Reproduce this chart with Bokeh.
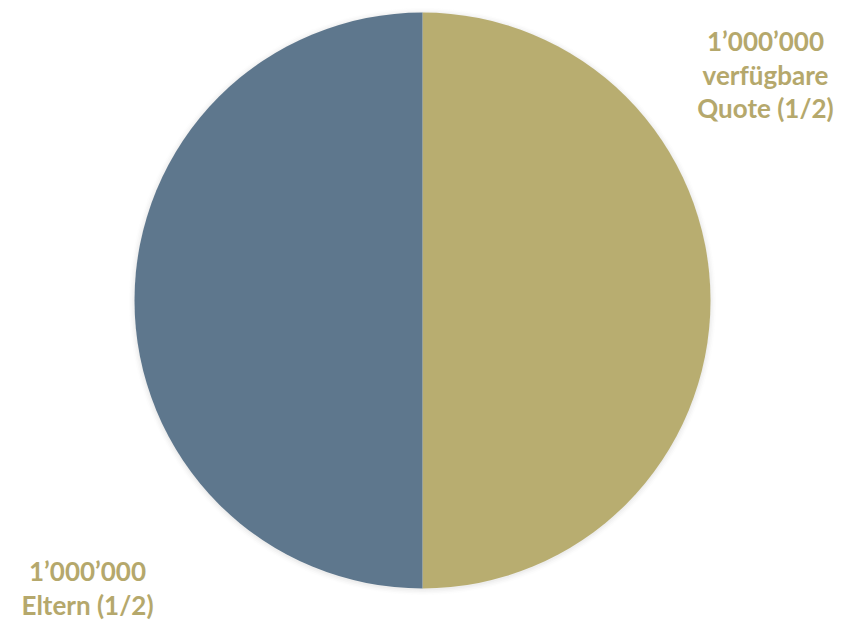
import numpy as np
from bokeh.plotting import figure
from bokeh.models import Range1d, ColumnDataSource
from bokeh.core.properties import value
from bokeh.embed import file_html
from bokeh.resources import INLINE

# Data
categories = ["verfügbare Quote (1/2)", "Eltern (1/2)"]
amounts = [1000000, 1000000]
amount_labels = ["1’000’000", "1’000’000"]
colors = ["#B8AD70", "#5E778D"]

W, H = 842, 620
p = figure(width=W, height=H, output_backend="svg", toolbar_location=None,
           x_range=Range1d(0, W), y_range=Range1d(0, H), min_border=0)
p.axis.visible = False
p.grid.visible = False
p.outline_line_color = None
p.background_fill_color = "white"

cx, cy, r = 422, 320, 288

# soft shadow
for i, a in enumerate([0.05, 0.04, 0.03, 0.02]):
    p.circle(x=[cx], y=[cy - 1], radius=r + 1 + i * 1.5, fill_color="#808080",
             fill_alpha=a, line_color=None)

total = float(sum(amounts))
fracs = np.array(amounts) / total
ends = np.cumsum(fracs) * 2 * np.pi
starts = np.concatenate([[0], ends[:-1]])
# clockwise from 12 o'clock
start_angle = np.pi / 2 - starts
end_angle = np.pi / 2 - ends

src = ColumnDataSource(dict(start=start_angle, end=end_angle, color=colors))
p.wedge(x=cx, y=cy, radius=r, start_angle="start", end_angle="end",
        direction="clock", fill_color="color", line_color=None, source=src)

label_color = "#B5A86C"
font = value("Lato")
fsize = "26px"
# top-right label
lines1 = [amount_labels[0]] + categories[0].split(" ", 1)
ys1 = [580, 546, 513]
p.text(x=[765] * 3, y=ys1, text=lines1, text_font=font, text_font_style="bold",
       text_font_size=fsize, text_color=label_color, text_align="center",
       text_baseline="middle")
# bottom-left label
lines2 = [amount_labels[1], categories[1]]
ys2 = [50, 16]
p.text(x=[87] * 2, y=ys2, text=lines2, text_font=font, text_font_style="bold",
       text_font_size=fsize, text_color=label_color, text_align="center",
       text_baseline="middle")

open("out.html", "w").write(file_html(p, INLINE))
